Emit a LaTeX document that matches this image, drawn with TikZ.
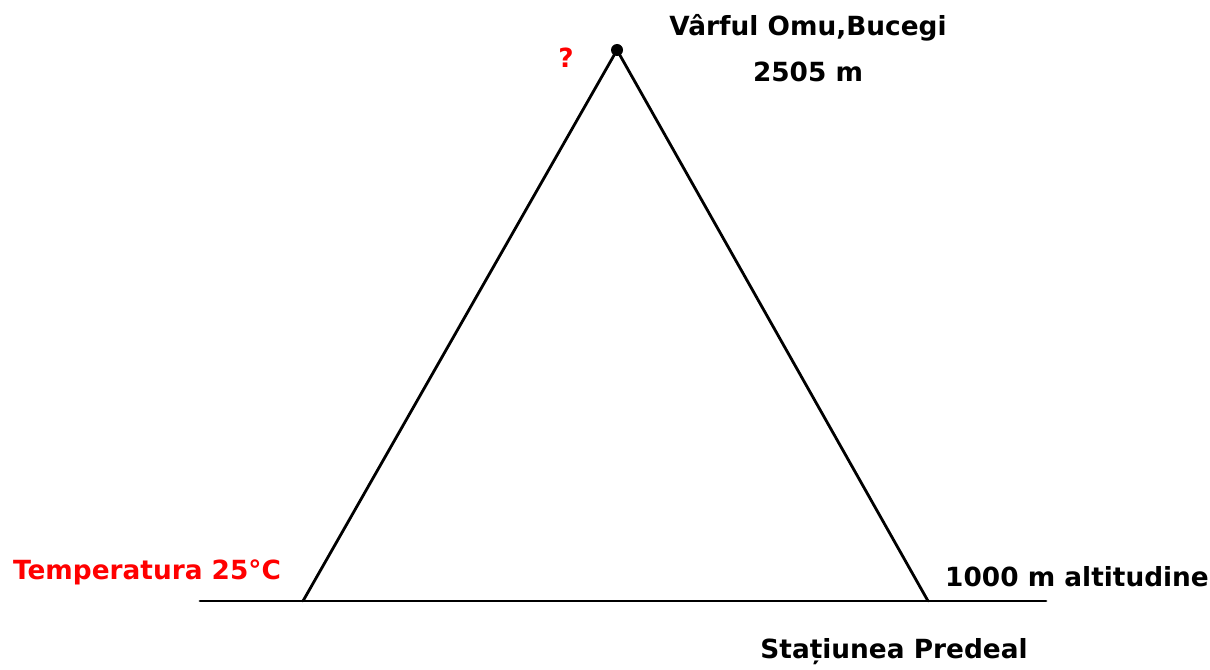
\documentclass[tikz,border=0pt]{standalone}
\usepackage{fontspec}
\setmainfont{DejaVu Sans}
\usepackage{xcolor}
\definecolor{tred}{RGB}{255,0,0}
\usetikzlibrary{positioning}

\begin{document}
\begin{tikzpicture}[
    lbl/.style={font=\fontsize{15}{17}\selectfont\bfseries, inner sep=0pt},
    redlbl/.style={lbl, text=tred},
    slope/.style={line width=1.6pt, line cap=round},
    peakdot/.style={circle, fill=black, minimum size=0.24cm, inner sep=0pt}
  ]
    \useasboundingbox (0,0) rectangle (24.2,13.38);

    % Triangle corners
    \node[peakdot] (peak) at (12.34,12.38) {};
    \coordinate (left) at (6.06,1.36);
    \coordinate (right) at (18.56,1.36);
    \coordinate (gw) at (4.0,1.36);
    \coordinate (ge) at (20.92,1.36);

    % Ground and slopes
    \draw[slope] (gw) -- (ge);
    \draw[slope] (left) -- (peak.center) -- (right);

    % Labels
    \node[redlbl] (q) at (11.32,12.22) {?};
    \node[lbl] (name) at (16.16,12.82) {Vârful Omu,Bucegi};
    \node[lbl] (alt) at (16.16,11.94) {2505 m};
    \node[redlbl] (temp) at (2.94,1.94) {Temperatura 25°C};
    \node[lbl] (base) at (21.54,1.84) {1000 m altitudine};
    \node[lbl] (stat) at (17.88,0.34) {Stațiunea Predeal};
  \end{tikzpicture}
\end{document}
